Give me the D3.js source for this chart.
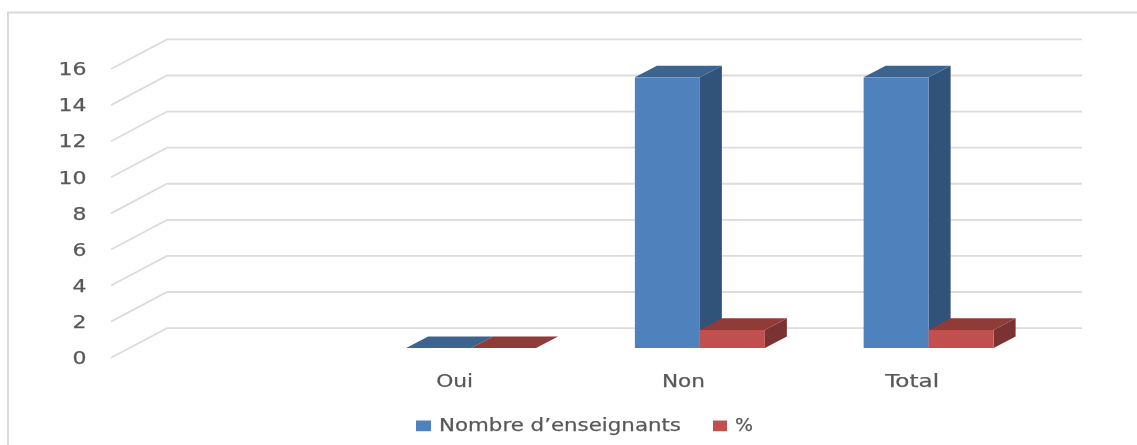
<!DOCTYPE html>
<html>
<head>
<meta charset="utf-8">
<script src="https://cdn.jsdelivr.net/npm/d3@7/dist/d3.min.js"></script>
<style>
html,body{margin:0;padding:0;background:#fff;overflow:hidden}
svg{display:block}
text{font-family:"DejaVu Sans",sans-serif;fill:#595959;stroke:#595959;stroke-width:0.25}
</style>
</head>
<body>
<svg id="chart" width="1137" height="445"></svg>
<script>
const categories = ["", "Oui", "Non", "Total"];
const seriesNames = ["Nombre d\u2019enseignants", "%"];
const enseignants = [null, 0, 15, 15];
const pourcent = [null, 0, 1, 1];
const yTicks = [0, 2, 4, 6, 8, 10, 12, 14, 16];
const seriesValues = [enseignants, pourcent];

const frontColors = ["#4f81bd", "#c0504d"];
const topColors = ["#3c648f", "#8f3b39"];
const sideColors = ["#315379", "#7a3230"];

const svg = d3.select("#chart");
const defs = svg.append("defs");
defs.append("filter").attr("id", "soft").attr("x", "-5%").attr("y", "-5%").attr("width", "110%").attr("height", "110%")
  .append("feGaussianBlur").attr("stdDeviation", 0.55);

const root = svg.append("g").attr("filter", "url(#soft)");

// outer frame (only the top and left edges are in view)
root.append("path").attr("d", "M8,445V12.5H1137").attr("fill", "none")
  .attr("stroke", "#d9d9d9").attr("stroke-width", 2);

const x = d3.scaleBand().domain(categories).range([111, 1026]);
const y = d3.scaleLinear().domain([0, 16]).range([357.7, 69]);
const inner = d3.scaleBand().domain(d3.range(seriesNames.length))
  .range([0, x.bandwidth()]).paddingInner(0).paddingOuter(0.76);

// 3D depth of the floor and of the bar slab within it
const depth = {dx: 56, dy: -29.6};
const slab = {x0: 17, y0: -9.7, dx: 22, dy: -11.6};

// gridlines: side wall + back wall
const grid = root.append("g").attr("fill", "none").attr("stroke", "#dcdcdc").attr("stroke-width", 1.8);
grid.selectAll("path").data(yTicks).join("path")
  .attr("d", t => {
    const p = d3.path();
    p.moveTo(x.range()[0], y(t));
    p.lineTo(x.range()[0] + depth.dx, y(t) + depth.dy);
    p.lineTo(x.range()[1] + depth.dx, y(t) + depth.dy);
    return p.toString();
  });

function poly(points) { return "M" + points.map(p => p.join(",")).join("L") + "Z"; }

const bars = root.append("g");
categories.forEach((cat, ci) => {
  seriesValues.forEach((vals, si) => {
    const v = vals[ci];
    if (v === null) return;
    const xa = x(cat) + inner(si) + slab.x0;
    const xb = xa + inner.bandwidth();
    const yb = y(0) + slab.y0;
    const yt = y(v) + slab.y0;
    const g = bars.append("g").attr("class", "bar");
    g.append("path").attr("fill", sideColors[si])
      .attr("d", poly([[xb, yb], [xb + slab.dx, yb + slab.dy], [xb + slab.dx, yt + slab.dy], [xb, yt]]));
    g.append("path").attr("fill", topColors[si])
      .attr("d", poly([[xa, yt], [xa + slab.dx, yt + slab.dy], [xb + slab.dx, yt + slab.dy], [xb, yt]]));
    if (v > 0) g.append("rect").attr("fill", frontColors[si])
      .attr("x", xa).attr("y", yt).attr("width", xb - xa).attr("height", yb - yt);
  });
});

// y tick labels
root.append("g").selectAll("text").data(yTicks).join("text")
  .attr("x", 86.5).attr("y", t => y(t) + 6.3)
  .attr("text-anchor", "end").attr("font-size", 17)
  .attr("textLength", t => String(t).length * 14)
  .attr("lengthAdjust", "spacingAndGlyphs")
  .text(t => t);

// category labels
const catWidths = {Oui: 37, Non: 43, Total: 54};
root.append("g").selectAll("text").data(categories.filter(c => c)).join("text")
  .attr("x", c => x(c) + x.bandwidth() / 2 + 0.5).attr("y", 387)
  .attr("text-anchor", "middle").attr("font-size", 17)
  .attr("textLength", c => catWidths[c])
  .attr("lengthAdjust", "spacingAndGlyphs")
  .text(c => c);

// legend
const legend = [
  {sx: 416, sw: 15, tx: 439, tw: 242},
  {sx: 713, sw: 14, tx: 735, tw: 18}
];
const lg = root.append("g").selectAll("g").data(seriesNames).join("g");
lg.append("rect")
  .attr("x", (d, i) => legend[i].sx).attr("y", 420.5)
  .attr("width", (d, i) => legend[i].sw).attr("height", 10.7)
  .attr("fill", (d, i) => frontColors[i]);
lg.append("text")
  .attr("x", (d, i) => legend[i].tx).attr("y", 431)
  .attr("font-size", 17)
  .attr("textLength", (d, i) => legend[i].tw)
  .attr("lengthAdjust", "spacingAndGlyphs")
  .text(d => d);
</script>
</body>
</html>
